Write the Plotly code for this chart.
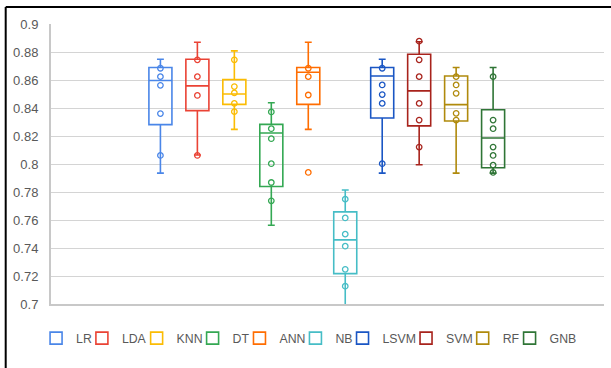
import plotly.graph_objects as go

models = ["LR", "LDA", "KNN", "DT", "ANN", "NB", "LSVM", "SVM", "RF", "GNB"]
colors = ["#4A86E8", "#EA4335", "#FBBC04", "#34A853", "#FF6D01",
          "#46BDC6", "#1A56C4", "#A8231C", "#B08A0C", "#2F7536"]

upper_whisker = [0.8748, 0.887, 0.8808, 0.8438, 0.887, 0.7814, 0.8748, 0.8873, 0.8689, 0.8689]
q3_vals = [0.8689, 0.8748, 0.8603, 0.8283, 0.8689, 0.7658, 0.8689, 0.8784, 0.8629, 0.8388]
median_vals = [0.8596, 0.8558, 0.8500, 0.8221, 0.8655, 0.7458, 0.8629, 0.8522, 0.8424, 0.8186]
q1_vals = [0.8281, 0.8381, 0.8426, 0.7839, 0.8426, 0.7217, 0.8329, 0.8272, 0.8307, 0.7973]
lower_whisker = [0.7935, 0.8064, 0.8247, 0.7563, 0.8247, 0.6969, 0.7935, 0.7995, 0.7935, 0.7935]

pts_LR = [0.8684, 0.8624, 0.8562, 0.836, 0.8061]
pts_LDA = [0.8744, 0.8624, 0.849, 0.8061]
pts_KNN = [0.8744, 0.8553, 0.8508, 0.8433, 0.8374]
pts_DT = [0.8372, 0.8252, 0.8181, 0.8002, 0.7868, 0.7737]
pts_ANN = [0.8684, 0.8624, 0.8493, 0.794]
pts_NB = [0.7749, 0.7615, 0.7499, 0.7413, 0.7248, 0.7127]
pts_LSVM = [0.8684, 0.8565, 0.8496, 0.8433, 0.8002]
pts_SVM = [0.8877, 0.8744, 0.8624, 0.8433, 0.8314, 0.8121]
pts_RF = [0.8624, 0.8565, 0.8505, 0.8362, 0.8314]
pts_GNB = [0.8624, 0.8314, 0.8252, 0.8121, 0.8061, 0.7992, 0.794]
points = [pts_LR, pts_LDA, pts_KNN, pts_DT, pts_ANN, pts_NB, pts_LSVM, pts_SVM, pts_RF, pts_GNB]

FONT = "Liberation Sans, Arial, sans-serif"
fig = go.Figure()

for i, m in enumerate(models):
    c = colors[i]
    fig.add_trace(go.Box(
        x=[m], q1=[q1_vals[i]], median=[median_vals[i]], q3=[q3_vals[i]],
        lowerfence=[lower_whisker[i]], upperfence=[upper_whisker[i]],
        name=m, boxpoints=False, line=dict(color=c, width=1.6),
        fillcolor="rgba(255,255,255,0)", whiskerwidth=0.3,
        legendgroup=m, showlegend=True, hoverinfo="skip"))
for i, m in enumerate(models):
    c = colors[i]
    fig.add_trace(go.Scatter(
        x=[m] * len(points[i]), y=points[i], mode="markers",
        marker=dict(symbol="circle-open", size=5.5, color=c, line=dict(width=1.3, color=c)),
        legendgroup=m, showlegend=False, hoverinfo="skip"))

W_PLOT = 553
H_PLOT = 280
fig.update_layout(
    width=611, height=368,
    margin=dict(l=51, r=7, t=24, b=64, autoexpand=False),
    paper_bgcolor="white", plot_bgcolor="white",
    boxmode="overlay", boxgap=0.11,
    font=dict(family=FONT, size=13, color="#595959"),
    xaxis=dict(type="category", categoryorder="array", categoryarray=models,
               range=[-2.96, 12.0], showticklabels=False, showgrid=False,
               zeroline=False, showline=True, linecolor="#C8C8C8", linewidth=1.5, ticks=""),
    yaxis=dict(range=[0.7, 0.9], dtick=0.02, tick0=0.7, showgrid=True,
               gridcolor="#D4D4D4", gridwidth=1.3, zeroline=False,
               showline=True, linecolor="#C8C8C8", linewidth=2, ticks="",
               ticklabelstandoff=8, tickfont=dict(size=13, color="#595959")),
    legend=dict(orientation="h", x=-0.020, xanchor="left", y=-0.122, yanchor="middle",
                font=dict(size=12.3, color="#595959"), indentation=-15,
                title=dict(text=" ", side="left", font=dict(size=4)),
                itemwidth=30, bgcolor="rgba(0,0,0,0)"),
    shapes=[
        dict(type="line", xref="paper", yref="paper",
             x0=(5.7 - 51) / W_PLOT, x1=(611 - 51) / W_PLOT,
             y0=(304 - 7) / H_PLOT, y1=(304 - 7) / H_PLOT,
             line=dict(color="black", width=2)),
        dict(type="line", xref="paper", yref="paper",
             x0=(5.7 - 51) / W_PLOT, x1=(5.7 - 51) / W_PLOT,
             y0=(304 - 7) / H_PLOT, y1=(304 - 368) / H_PLOT,
             line=dict(color="black", width=2)),
    ],
)

fig.write_html("out.html", config={"displayModeBar": False},
               post_script="document.body.style.margin='0px';document.body.style.overflow='hidden';")
